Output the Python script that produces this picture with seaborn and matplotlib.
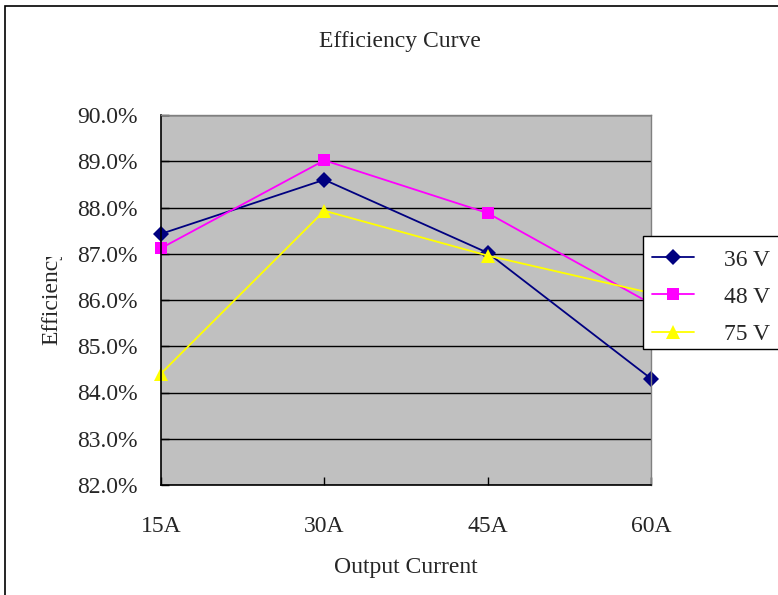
import matplotlib
matplotlib.use("Agg")
import matplotlib.pyplot as plt
import seaborn as sns
import pandas as pd
from matplotlib.patches import Rectangle
from matplotlib.transforms import Bbox

currents = ["15A", "30A", "45A", "60A"]
eff_36v = [87.43, 88.60, 87.02, 84.30]
eff_48v = [87.12, 89.02, 87.88, 85.92]
eff_75v = [84.41, 87.93, 86.96, 86.15]
series_names = ["36 V", "48 V", "75 V"]
y_ticks = [82, 83, 84, 85, 86, 87, 88, 89, 90]

rows = []
for name, vals in zip(series_names, [eff_36v, eff_48v, eff_75v]):
    for c, v in zip(currents, vals):
        rows.append({"current": c, "eff": v, "series": name})
df = pd.DataFrame(rows)

sns.set_style("white")
plt.rcParams["font.family"] = ["Liberation Serif", "DejaVu Serif"]

W, H = 778, 595
fig = plt.figure(figsize=(W / 100, H / 100), dpi=100)
fig.patch.set_facecolor("white")
L, R, T, B = 161, 651, 115, 485
ax = fig.add_axes([L / W, 1 - B / H, (R - L) / W, (B - T) / H])
ax.set_facecolor("#C0C0C0")

palette = {"36 V": "#000080", "48 V": "#FF00FF", "75 V": "#FFFF00"}
markers = {"36 V": "D", "48 V": "s", "75 V": "^"}
sns.lineplot(data=df, x="current", y="eff", hue="series", style="series",
             hue_order=series_names, style_order=series_names,
             palette=palette, markers=markers, dashes=False,
             markersize=8, linewidth=1.3, markeredgewidth=0, ax=ax,
             sort=False)
for line in ax.get_lines():
    line.set_clip_on(False)
    if line.get_marker() == "^":
        line.set_markersize(10)

ax.set_xlim(0, 3)
ax.set_ylim(82, 90)
ax.set_yticks(y_ticks)
ax.set_yticklabels([f"{v:.1f}%" for v in y_ticks])
ax.set_xticks(range(len(currents)))
ax.set_xticklabels(currents)
ax.yaxis.grid(True, color="black", linewidth=1)
ax.set_axisbelow(True)
ax.tick_params(axis="y", direction="in", length=6, width=1, color="black",
               labelsize=17, pad=17, left=True)
ax.tick_params(axis="x", direction="in", length=6, width=1, color="black",
               labelsize=17, pad=22, bottom=True)
for s in ["left", "bottom"]:
    ax.spines[s].set_color("black")
    ax.spines[s].set_linewidth(1.2)
for s in ["top", "right"]:
    ax.spines[s].set_color("#808080")
    ax.spines[s].set_linewidth(1)

ax.set_ylabel("")
ax.set_xlabel("Output Current", fontsize=17)
ax.xaxis.set_label_coords(0.5, (B - 568) / (B - T))
ax.xaxis.label.set_va("center")

fig.text(400 / W, 1 - 42 / H, "Efficiency Curve", ha="center", va="center",
         fontsize=17)
ylab = fig.text(52 / W, 1 - 296 / H, "Efficiency", rotation=90,
                ha="center", va="center", fontsize=17)
ylab.set_clip_on(True)
ylab.set_clip_box(Bbox([[0, 0], [W, H - 257]]))

# legend box (extends past the right edge of the figure, as in the reference)
ax.add_patch(Rectangle((643 / W, 1 - 349 / H), 0.3, (349 - 236) / H,
                       transform=fig.transFigure, clip_on=False,
                       facecolor="white", edgecolor="black", linewidth=1,
                       zorder=4.9))
leg = ax.legend(loc="upper left", bbox_to_anchor=(643 / W, 1 - 240 / H),
                bbox_transform=fig.transFigure, fontsize=17, frameon=False,
                handlelength=1.8, handletextpad=1.23, labelspacing=0.665,
                borderpad=0.38, borderaxespad=0)
leg.set_zorder(5)
leg.set_title(None)

fig.patches.append(Rectangle((5 / W, -0.05), 1.1, 1 - 6 / H + 0.05,
                             transform=fig.transFigure, fill=False,
                             edgecolor="black", linewidth=1.2))

fig.savefig("out.png", dpi=100)
